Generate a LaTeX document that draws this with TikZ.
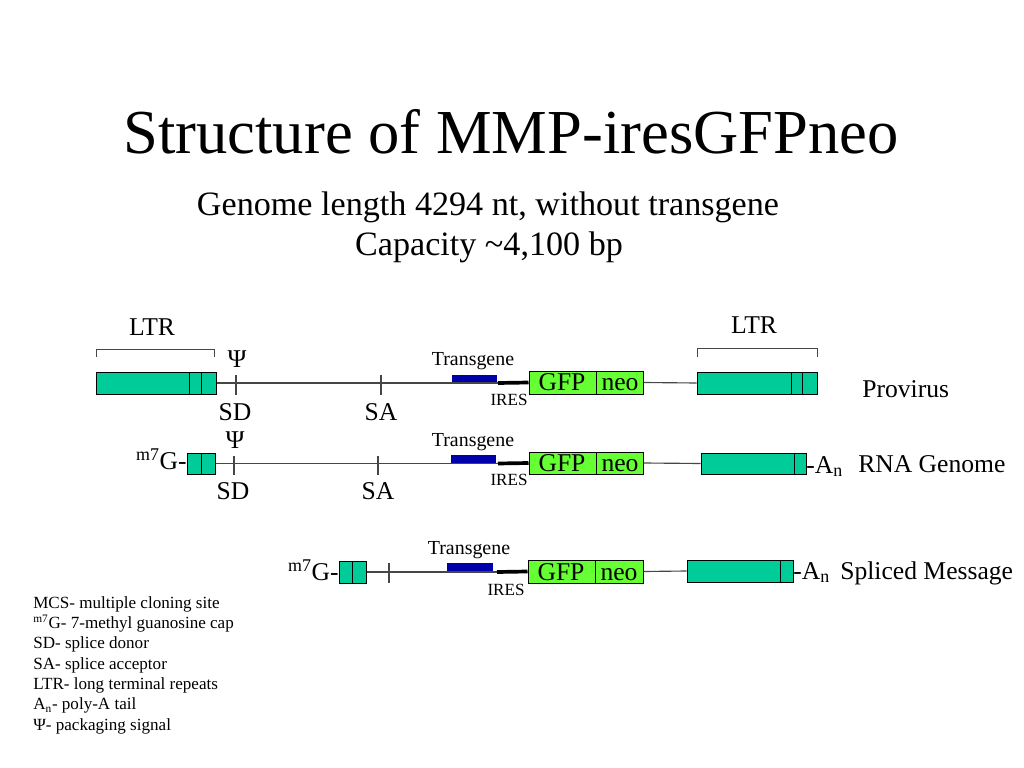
\documentclass[tikz,border=0pt]{standalone}
\usepackage{fontspec}
\setmainfont{Liberation Serif}
\usetikzlibrary{fit}
\definecolor{tealbox}{RGB}{0,204,153}
\definecolor{gfpgreen}{RGB}{102,255,51}
\definecolor{tgblue}{RGB}{0,0,170}
\definecolor{bbgray}{RGB}{70,70,70}
\begin{document}
\begin{tikzpicture}[x=0.703125pt,y=-0.703125pt,
  box/.style={draw=black,line width=0.7pt,inner sep=0pt},
  ltrbox/.style={box,fill=tealbox},
  gfpbox/.style={box,fill=gfpgreen},
  tgbox/.style={inner sep=0pt,fill=tgblue,draw=tgblue,line width=0.5pt},
  bbone/.style={draw=bbgray,line width=0.8pt},
  iresline/.style={draw=black,line width=2.6pt},
  divider/.style={draw=black,line width=0.7pt},
  bracket/.style={draw=bbgray,line width=0.7pt},
  txtA/.style={inner sep=0pt,font=\fontsize{18}{21}\selectfont},
  txtB/.style={inner sep=0pt,font=\fontsize{14}{17}\selectfont},
  txtC/.style={inner sep=0pt,font=\fontsize{12}{14}\selectfont},
  ttl/.style={inner sep=0pt,font=\fontsize{44}{52}\selectfont},
  subttl/.style={inner sep=0pt,font=\fontsize{24}{29}\selectfont}]
\useasboundingbox[fill=white] (0,0) rectangle (1024,768);

% title
\node[ttl,anchor=base] (title) at (511,154) {Structure of MMP-iresGFPneo};
\node[subttl,anchor=base] (sub1) at (488,216) {Genome length 4294 nt, without transgene};
\node[subttl,anchor=base] (sub2) at (489,256) {Capacity {\char"7E}4,100 bp};

% ---------- Row 1: Provirus ----------
\node[ltrbox,fit={(96,372)(216,394)}] (L1a) {};
\draw[divider] (189,372) -- (189,394) (201,372) -- (201,394);
\node[ltrbox,fit={(697,372)(817,394)}] (L1b) {};
\draw[divider] (791,372) -- (791,394) (802,372) -- (802,394);
\node[gfpbox,fit={(529,371)(596,394)}] (G1) {};
\node[gfpbox,fit={(596,371)(643,394)}] (N1) {};
\node[txtA,anchor=base] (G1t) at (562,390) {GFP};
\node[txtA,anchor=base] (N1t) at (620,390) {neo};
\node[tgbox,fit={(452,375)(496,383)}] (T1) {};
\coordinate (I1) at (498,383);
\draw[bbone] (L1a.east) -- (I1);
\draw[iresline] (I1) -- (G1.west);
\draw[bbone] (N1.east) -- (L1b.west);
\draw[bbone] (236,375) -- (236,395);
\draw[bbone] (381,375) -- (381,395);
\draw[bracket] (96,357) -- (96,349) -- (214,349) -- (214,357);
\draw[bracket] (697,357) -- (697,348) -- (817,348) -- (817,357);
\node[txtA,anchor=base] (ltr1) at (152,336) {LTR};
\node[txtA,anchor=base] (ltr2) at (754,333) {LTR};
\node[txtA,anchor=base] (psi1) at (237,367) {Ψ};
\node[txtA,anchor=base] (sd1) at (235,420) {SD};
\node[txtA,anchor=base] (sa1) at (381,420) {SA};
\node[txtB,anchor=base] (tg1) at (473,365) {Transgene};
\node[txtC,anchor=base] (ir1) at (509,405) {IRES};
\node[txtA,anchor=base west] (prov) at (862,397) {Provirus};

% ---------- Row 2: RNA genome ----------
\node[ltrbox,fit={(187,453)(215,474)}] (L2a) {};
\draw[divider] (201,453) -- (201,474);
\node[ltrbox,fit={(701,453)(806,474)}] (L2b) {};
\draw[divider] (794,453) -- (794,474);
\node[gfpbox,fit={(529,452)(596,474)}] (G2) {};
\node[gfpbox,fit={(596,452)(643,474)}] (N2) {};
\node[txtA,anchor=base] (G2t) at (562,471) {GFP};
\node[txtA,anchor=base] (N2t) at (620,471) {neo};
\node[tgbox,fit={(451,455)(495,463.5)}] (T2) {};
\coordinate (I2) at (498,463.5);
\draw[bbone] (L2a.east) -- (I2);
\draw[iresline] (I2) -- (G2.west);
\draw[bbone] (N2.east) -- (L2b.west);
\draw[bbone] (234,456) -- (234,475);
\draw[bbone] (378,456) -- (378,475);
\node[txtA,anchor=base east] (cap2) at (187,469) {\textsuperscript{m7}G-};
\node[txtA,anchor=base west] (an2) at (806,473) {-A\textsubscript{n}};
\node[txtA,anchor=base] (psi2) at (235,448) {Ψ};
\node[txtA,anchor=base] (sd2) at (233,499) {SD};
\node[txtA,anchor=base] (sa2) at (378,499) {SA};
\node[txtB,anchor=base] (tg2) at (473,446) {Transgene};
\node[txtC,anchor=base] (ir2) at (509,485) {IRES};
\node[txtA,anchor=base west] (rna) at (858,472) {RNA Genome};

% ---------- Row 3: Spliced message ----------
\node[ltrbox,fit={(339,561)(366,583)}] (L3a) {};
\draw[divider] (352,561) -- (352,583);
\node[ltrbox,fit={(687,560)(793,582)}] (L3b) {};
\draw[divider] (780,560) -- (780,582);
\node[gfpbox,fit={(528,560)(595,583)}] (G3) {};
\node[gfpbox,fit={(595,560)(643,583)}] (N3) {};
\node[txtA,anchor=base] (G3t) at (561,580) {GFP};
\node[txtA,anchor=base] (N3t) at (619,580) {neo};
\node[tgbox,fit={(447,563)(492,572)}] (T3) {};
\coordinate (I3) at (497,572);
\draw[bbone] (L3a.east) -- (I3);
\draw[iresline] (I3) -- (G3.west);
\draw[bbone] (N3.east) -- (L3b.west);
\draw[bbone] (389,563) -- (389,583);
\node[txtA,anchor=base east] (cap3) at (339,580) {\textsuperscript{m7}G-};
\node[txtA,anchor=base west] (an3) at (793,579) {-A\textsubscript{n}};
\node[txtB,anchor=base] (tg3) at (469,554) {Transgene};
\node[txtC,anchor=base] (ir3) at (506,595) {IRES};
\node[txtA,anchor=base west] (spl) at (840,579) {Spliced Message};

% ---------- Legend ----------
\node[txtC,anchor=base west] (lg1) at (33,608) {MCS- multiple cloning site};
\node[txtC,anchor=base west] (lg2) at (33,628.3) {\textsuperscript{m7}G- 7-methyl guanosine cap};
\node[txtC,anchor=base west] (lg3) at (33,648.6) {SD- splice donor};
\node[txtC,anchor=base west] (lg4) at (33,669) {SA- splice acceptor};
\node[txtC,anchor=base west] (lg5) at (33,689.3) {LTR- long terminal repeats};
\node[txtC,anchor=base west] (lg6) at (33,709.6) {A\textsubscript{n}- poly-A tail};
\node[txtC,anchor=base west] (lg7) at (33,730) {Ψ- packaging signal};
\end{tikzpicture}
\end{document}
